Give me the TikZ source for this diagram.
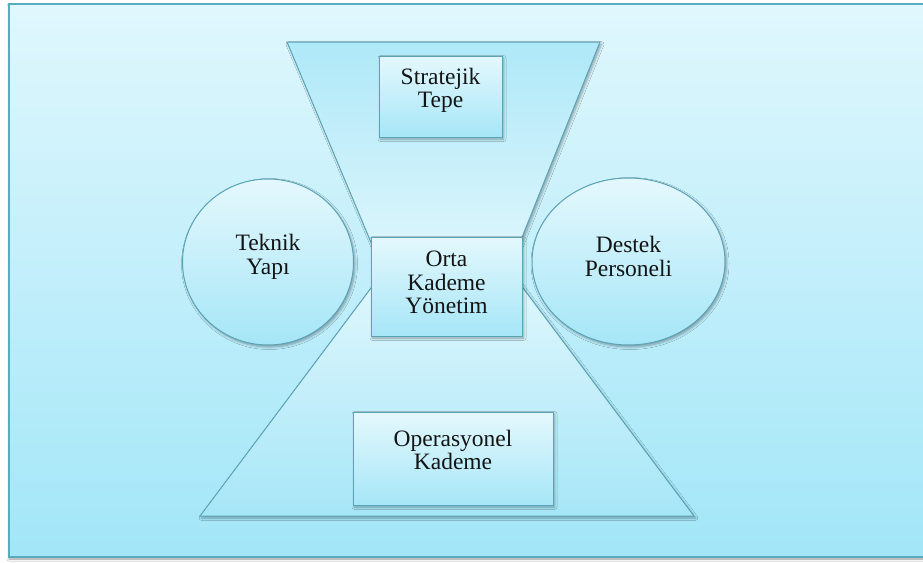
\documentclass[tikz,border=0pt]{standalone}
\usepackage{fontspec}
\setmainfont{Liberation Serif}
\usetikzlibrary{shapes.geometric,shadows.blur}

\definecolor{bgtop}{HTML}{E0F7FD}
\definecolor{bgbot}{HTML}{A2E6F8}
\definecolor{shapetop}{HTML}{E4F8FD}
\definecolor{shapebot}{HTML}{A6E6F7}
\definecolor{edgeline}{HTML}{5BA3B6}
\definecolor{frameline}{HTML}{56ADBF}
\definecolor{ink}{HTML}{141414}

\tikzset{
  softshadow/.style={blur shadow={shadow xshift=1.5pt, shadow yshift=-2pt,
      shadow blur steps=5, shadow blur radius=2.5pt, shadow opacity=35}},
  part/.style={draw=edgeline, line width=1pt, top color=shapetop,
      bottom color=shapebot, softshadow},
  levelbox/.style={part, rectangle, inner sep=0pt},
  unit/.style={part, ellipse, inner sep=0pt},
  caption/.style={align=center, text=ink, inner sep=0pt,
      font=\fontsize{23.5}{23.6}\selectfont},
}

\begin{document}
\begin{tikzpicture}[x=1pt, y=-1pt]
  \useasboundingbox (0,0) rectangle (923,562);
  \fill[white] (0,0) rectangle (923,562);

  % outer frame
  \draw[frameline, line width=1.5pt, top color=bgtop, bottom color=bgbot,
        blur shadow={shadow xshift=0pt, shadow yshift=-2pt, shadow blur steps=4,
        shadow blur radius=2pt, shadow opacity=40}]
    (9,4) rectangle (930,557);

  % upper funnel (narrows towards the middle)
  \draw[draw=edgeline, line width=1pt, top color=shapebot!90, bottom color=shapetop, softshadow]
    (287,42) -- (600,42) -- (501,290) -- (391,290) -- cycle;

  % lower funnel (widens towards the base)
  \draw[part]
    (392,260) -- (502,260) -- (694,516) -- (200,516) -- cycle;

  % side units
  \node[unit, minimum width=171pt, minimum height=166pt] (tek) at (268,262) {};
  \node[unit, minimum width=193pt, minimum height=167pt] (des) at (628.5,261.5) {};

  % management levels
  \node[levelbox, minimum width=123pt, minimum height=81pt] (str) at (440.5,96.5) {};
  \node[levelbox, minimum width=151pt, minimum height=99pt] (ort) at (446.5,286.5) {};
  \node[levelbox, minimum width=200pt, minimum height=93pt] (ope) at (453,458.5) {};

  % labels
  \node[caption] (strT) at ([yshift=6pt]str.center) {Stratejik\\Tepe};
  \node[caption] (ortT) at ([yshift=4pt]ort.center) {Orta\\Kademe\\Yönetim};
  \node[caption] (opeT) at ([yshift=8.5pt]ope.center) {Operasyonel\\Kademe};
  \node[caption] (tekT) at ([yshift=5pt]tek.center) {Teknik\\Yapı};
  \node[caption] (desT) at ([yshift=5pt]des.center) {Destek\\Personeli};
\end{tikzpicture}
\end{document}
